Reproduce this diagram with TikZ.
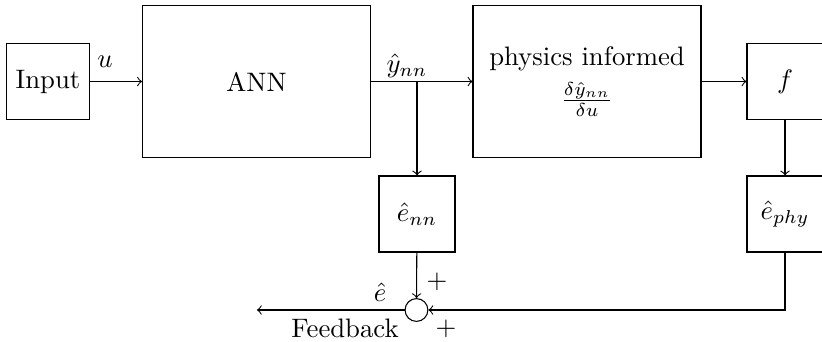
\documentclass[tikz,border=0pt]{standalone}
\usetikzlibrary{arrows}
\begin{document}
\begin{tikzpicture}[
  blk/.style={draw, minimum width=1cm, minimum height=1cm, inner sep=0.333em},
  bigblk/.style={draw, minimum width=3cm, minimum height=2cm, align=center},
  sumnode/.style={draw, circle, minimum size=0.3cm, inner sep=0pt},
  conn/.style={->},
  lbl/.style={inner sep=0pt}
]
\useasboundingbox (0,0) rectangle (10.816,4.487);
\node[blk] (input) at (0.632,3.414) {Input};
\node[bigblk] (ann) at (3.375,3.414) {ANN};
\node[bigblk] (phys) at (7.724,3.414) {physics informed\\[3.5pt] $\frac{\delta\hat{y}_{nn}}{\delta u}$};
\node[blk] (f) at (10.329,3.414) {$f$};
\node[blk] (enn) at (5.487,1.671) {$\hat{e}_{nn}$};
\node[blk] (ephy) at (10.329,1.671) {$\hat{e}_{phy}$};
\node[sumnode] (sum) at (5.48,0.408) {};
\coordinate (branch) at (5.487,3.414);
\coordinate (out) at (3.38,0.408);

\draw[conn] (input) -- (ann);
\draw[conn] (ann) -- (phys);
\draw[conn] (branch) -- (enn);
\draw[conn] (phys) -- (f);
\draw[conn] (f) -- (ephy);
\draw[conn] (enn) -- (sum);
\draw[conn] (ephy) |- (sum);
\draw[conn] (sum) -- (out);

\node[lbl] (lu) at (1.382,3.67) {$u$};
\node[lbl] (ly) at (5.355,3.62) {$\hat{y}_{nn}$};
\node[lbl] (le) at (5.0,0.64) {$\hat{e}$};
\node[lbl] (lfb) at (4.54,0.17) {Feedback};
\node[lbl] (lp1) at (5.75,0.78) {$+$};
\node[lbl] (lp2) at (5.87,0.16) {$+$};
\end{tikzpicture}
\end{document}
